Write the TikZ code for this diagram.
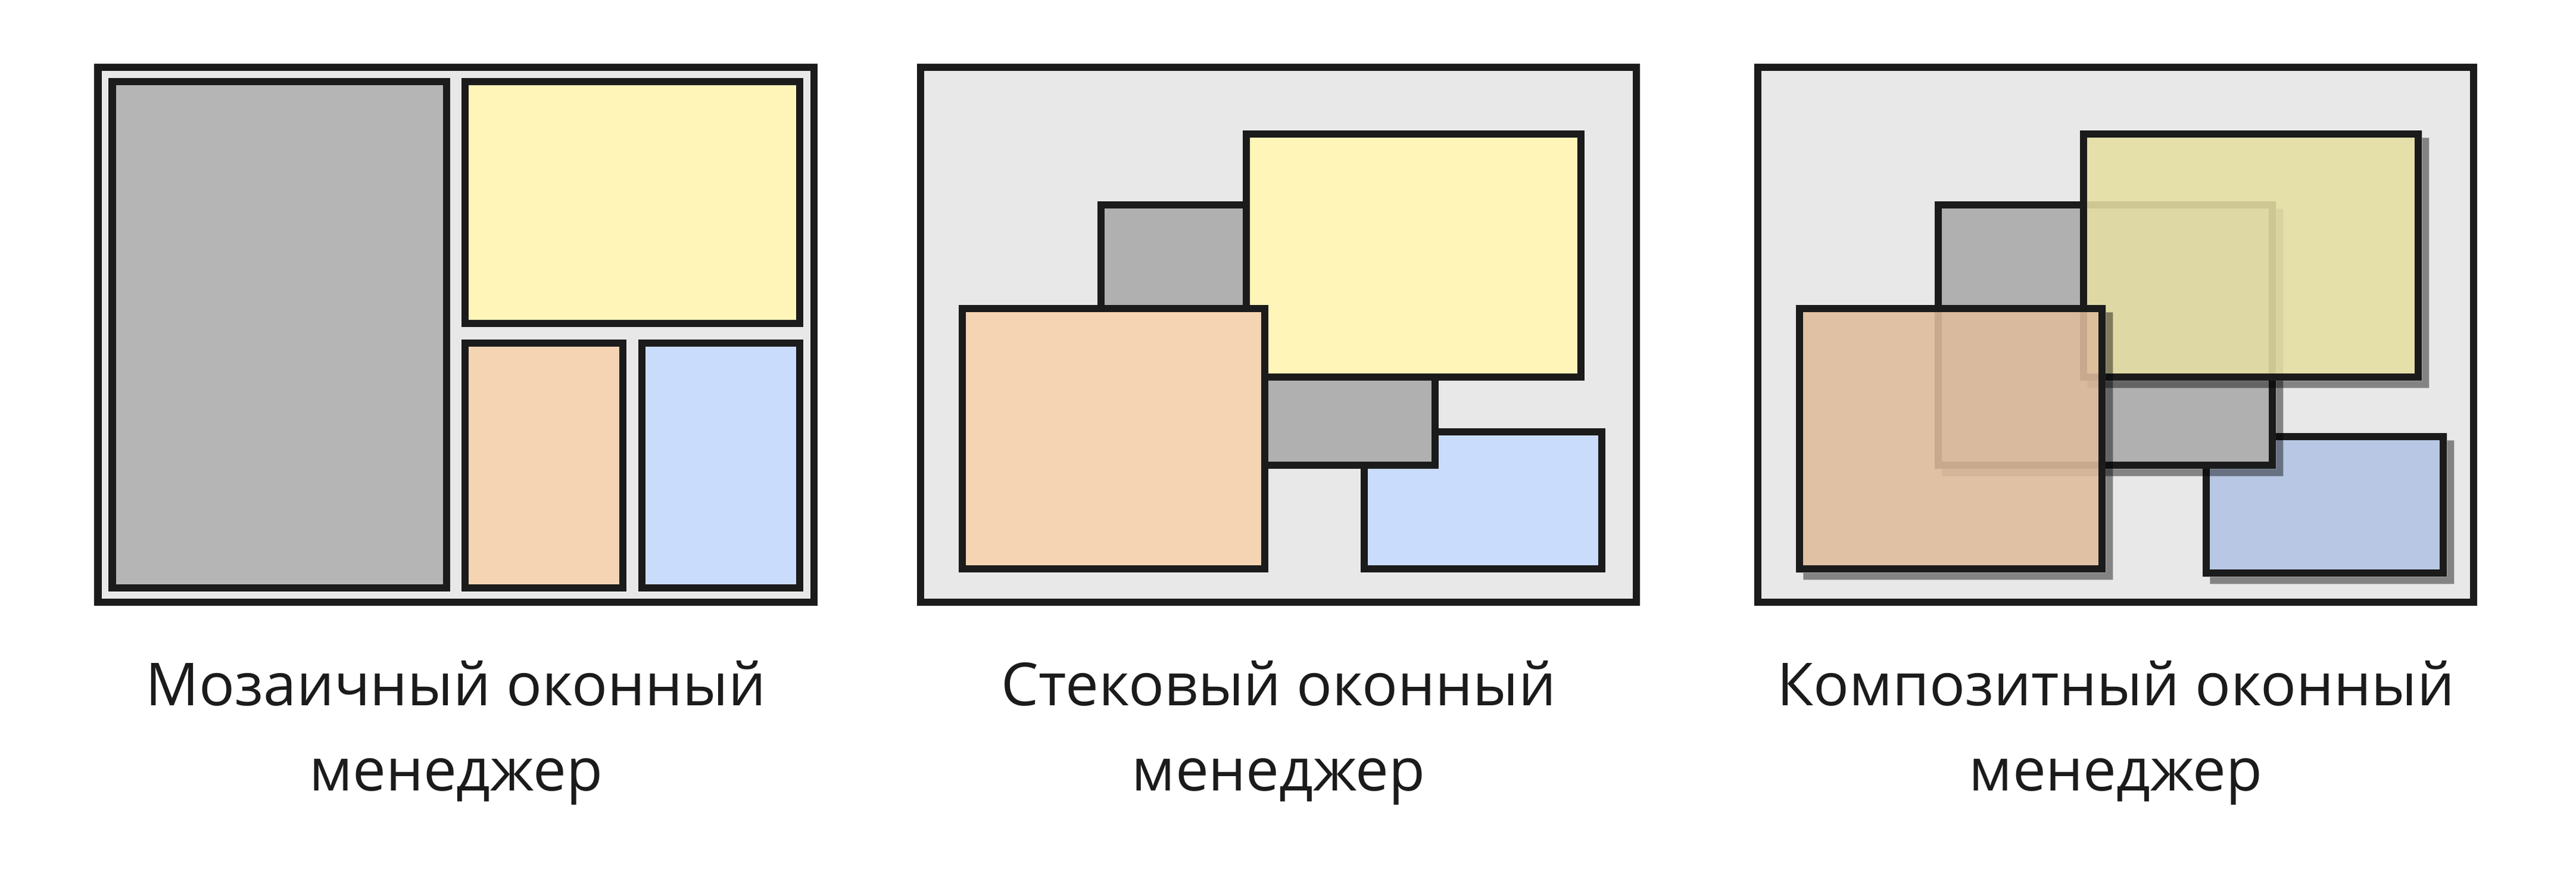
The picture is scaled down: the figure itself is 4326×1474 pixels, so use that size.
\documentclass[tikz,border=0pt]{standalone}
\usepackage{fontspec}
\setmainfont{Open Sans}
\definecolor{edge}{HTML}{1B1B1B}
\definecolor{desk}{HTML}{E8E8E8}
\definecolor{wgray}{HTML}{B0B0B0}
\definecolor{wgraylt}{HTML}{B5B5B5}
\definecolor{wyellow}{HTML}{FFF5B8}
\definecolor{worange}{HTML}{F5D4B3}
\definecolor{wblue}{HTML}{C9DCFC}
\definecolor{cyellow}{RGB}{229,222,163}
\definecolor{corange}{RGB}{223,188,156}
\definecolor{cblue}{RGB}{178,197,228}
\tikzset{
  screen/.style={draw=edge, fill=desk, line width=0.12cm},
  win/.style={draw=edge, line width=0.12cm},
  glass/.style={draw=edge, line width=0.12cm, fill opacity=0.886},
  drop/.style={fill=black, fill opacity=0.43, even odd rule},
  caption/.style={text=edge, align=center, anchor=base,
    font=\fontsize{28.3}{40.7}\selectfont}
}
% shadow strip round a window: x1, y1, x2, y2
\newcommand{\winshadow}[4]{\fill[drop] (#1+6,#2+6) rectangle (#3+18,#4+18) (#1-6,#2-6) rectangle (#3+6,#4+6);}
\begin{document}
\begin{tikzpicture}[x=0.01cm, y=-0.01cm]
  \useasboundingbox (0,0) rectangle (4326,1474);

  % tiling
  \begin{scope}[shift={(164.5,113.3)}]
    \draw[screen] (0,0) rectangle (1202,898);
    \draw[win, fill=wgraylt] (24,24) rectangle (585,874);
    \draw[win, fill=wyellow] (616,24) rectangle (1178,430);
    \draw[win, fill=worange] (616,463) rectangle (881,874);
    \draw[win, fill=wblue] (913,463) rectangle (1178,874);
  \end{scope}

  % stacking
  \begin{scope}[shift={(1546.3,113.3)}]
    \draw[screen] (0,0) rectangle (1202,898);
    \draw[win, fill=wblue] (745,612) rectangle (1144,842);
    \draw[win, fill=wgray] (303,231) rectangle (864,668);
    \draw[win, fill=wyellow] (547,112) rectangle (1109,520);
    \draw[win, fill=worange] (70,405) rectangle (578,842);
  \end{scope}

  % compositing
  \begin{scope}[shift={(2952.3,113.3)}]
    \draw[screen] (0,0) rectangle (1202,898);
    \winshadow{753}{620}{1151}{849}
    \draw[glass, fill=cblue] (753,620) rectangle (1151,849);
    \winshadow{303}{231}{864}{668}
    \draw[win, fill=wgray] (303,231) rectangle (864,668);
    \winshadow{547}{112}{1109}{520}
    \draw[glass, fill=cyellow] (547,112) rectangle (1109,520);
    \winshadow{70}{405}{578}{842}
    \draw[glass, fill=corange] (70,405) rectangle (578,842);
  \end{scope}

  % captions, anchored on the baseline of the second line
  \node[caption] (tiling) at (765.5,1328) {Мозаичный оконный\\менеджер};
  \node[caption] (stacking) at (2147.3,1328) {Стековый оконный\\менеджер};
  \node[caption] (compositing) at (3553.3,1328) {Композитный оконный\\менеджер};
\end{tikzpicture}
\end{document}
